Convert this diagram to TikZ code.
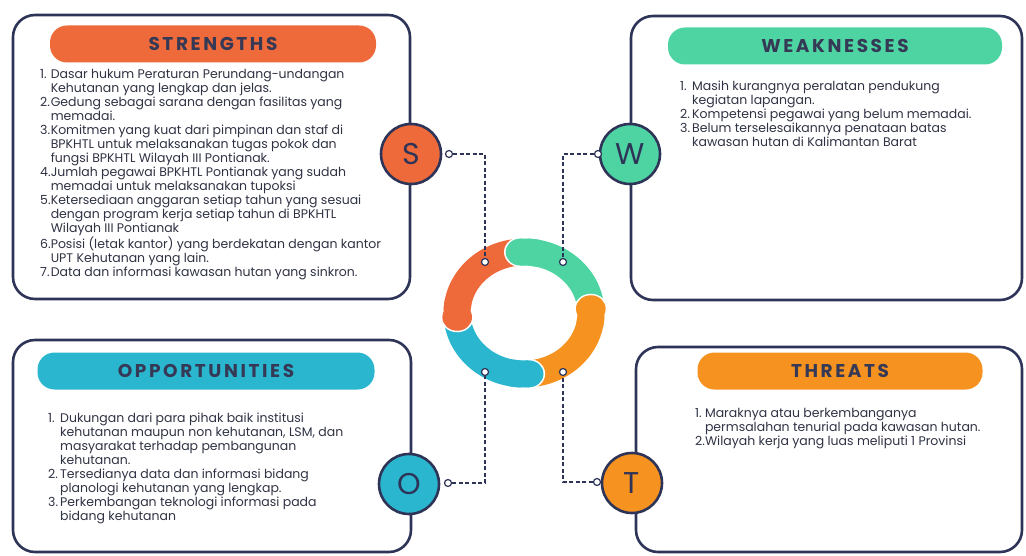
\documentclass[tikz,border=0pt]{standalone}
\usepackage{fontspec}
\setmainfont{Poppins}
\newfontfamily\headfont[LetterSpace=14]{Poppins}
\usetikzlibrary{positioning}
\definecolor{swnavy}{HTML}{2E3457}
\definecolor{swhead}{HTML}{353955}
\definecolor{swtext}{HTML}{2F3243}
\definecolor{swred}{HTML}{EE6A3A}
\definecolor{swmint}{HTML}{4DD4A2}
\definecolor{swteal}{HTML}{2BB6CF}
\definecolor{swamber}{HTML}{F6921F}
\newcommand{\bodytext}{\fontsize{12.5}{14}\selectfont}
\tikzset{
  panel/.style={draw=swnavy, line width=2.6pt, rounded corners=22pt},
  header/.style={rounded corners=17pt, minimum height=37pt, inner sep=0pt, text=swhead, font=\headfont\bfseries\fontsize{18.5}{20}\selectfont},
  badge/.style={circle, draw=swnavy, line width=2.6pt, minimum size=60pt, inner sep=0pt, text=swnavy, font=\fontsize{30}{30}\selectfont},
  pin/.style={circle, draw=swnavy, fill=white, line width=1.2pt, minimum size=7pt, inner sep=0pt},
  link/.style={draw=swnavy, line width=1.5pt, dash pattern=on 4pt off 2.5pt},
  items/.style={anchor=north west, inner sep=0pt, text=swtext, font=\bodytext, align=left},
}

\begin{document}
\begin{tikzpicture}[x=1pt,y=-1pt]
  \useasboundingbox (0,0) rectangle (1026,556);
  \draw[panel] (13,15) rectangle (410,299);
  \draw[panel] (631,16) rectangle (1022,300);
  \draw[panel] (13,340) rectangle (411,552);
  \draw[panel] (636,347) rectangle (1022,552);

  \node[header, fill=swred, minimum width=326pt] (sh) at (213,44) {STRENGTHS};
  \node[header, fill=swmint, minimum width=334pt] (wh) at (835,46) {WEAKNESSES};
  \node[header, fill=swteal, minimum width=337pt] (oh) at (206,371) {OPPORTUNITIES};
  \node[header, fill=swamber, minimum width=285pt] (th) at (840,371) {THREATS};

  \node[items] (st) at (40,69) {\begin{tabular}{@{}l@{}l@{}}
    1.&Dasar hukum Peraturan Perundang-undangan\\
      &Kehutanan yang lengkap dan jelas.\\
    2.&Gedung sebagai sarana dengan fasilitas yang\\
      &memadai.\\
    3.&Komitmen yang kuat dari pimpinan dan staf di\\
      &BPKHTL untuk melaksanakan tugas pokok dan\\
      &fungsi BPKHTL Wilayah III Pontianak.\\
    4.&Jumlah pegawai BPKHTL Pontianak yang sudah\\
      &memadai untuk melaksanakan tupoksi\\
    5.&Ketersediaan anggaran setiap tahun yang sesuai\\
      &dengan program kerja setiap tahun di BPKHTL\\
      &Wilayah III Pontianak\\
    6.&Posisi (letak kantor) yang berdekatan dengan kantor\\
      &UPT Kehutanan yang lain.\\
    7.&Data dan informasi kawasan hutan yang sinkron.
  \end{tabular}};
  \node[items] (wt) at (680,81) {\begin{tabular}{@{}l@{\hspace{2pt}}l@{}}
    1.&Masih kurangnya peralatan pendukung\\
      &kegiatan lapangan.\\
    2.&Kompetensi pegawai yang belum memadai.\\
    3.&Belum terselesaikannya penataan batas\\
      &kawasan hutan di Kalimantan Barat
  \end{tabular}};
  \node[items] (ot) at (48,412) {\begin{tabular}{@{}l@{\hspace{2pt}}l@{}}
    1.&Dukungan dari para pihak baik institusi\\
      &kehutanan maupun non kehutanan, LSM, dan\\
      &masyarakat terhadap pembangunan\\
      &kehutanan.\\
    2.&Tersedianya data dan informasi bidang\\
      &planologi kehutanan yang lengkap.\\
    3.&Perkembangan teknologi informasi pada\\
      &bidang kehutanan
  \end{tabular}};
  \node[items] (tt) at (695,407) {\begin{tabular}{@{}l@{}l@{}}
    1.&Maraknya atau berkembanganya\\
      &permsalahan tenurial pada kawasan hutan.\\
    2.&Wilayah kerja yang luas meliputi 1 Provinsi
  \end{tabular}};

  \begin{scope}[shift={(524,313)}, yscale=-1, xscale=1.098]
    \foreach \a/\b/\c in {4/93/swmint, 93/184/swred, 184/274/swteal, 274/364/swamber}
      \draw[\c, line width=27pt] (\a:61) arc[start angle=\a, end angle=\b, radius=61];
    \foreach \a/\b/\c in {4/93/swmint, 93/184/swred, 184/274/swteal, 274/364/swamber} {
      \fill[white] (\b:61) circle[radius=15];
      \fill[\c] (\b:61) circle[radius=13.5];
      \draw[\c, line width=27pt] (\b-15:61) arc[start angle=\b-15, end angle=\b, radius=61];
    }
  \end{scope}

  \node[badge, fill=swred] (s) at (411,154) {S};
  \node[badge, fill=swmint] (w) at (630,154) {W};
  \node[badge, fill=swteal] (o) at (409,484) {O};
  \node[badge, fill=swamber] (t) at (632,483) {T};

  \node[pin] (s1) at (449,154) {};
  \node[pin] (s2) at (485,262) {};
  \node[pin] (w1) at (598,154) {};
  \node[pin] (w2) at (563,262) {};
  \node[pin] (o1) at (448,483) {};
  \node[pin] (o2) at (485,372) {};
  \node[pin] (t1) at (597,482) {};
  \node[pin] (t2) at (563,372) {};
  \draw[link] (s1) -| (s2);
  \draw[link] (w1) -| (w2);
  \draw[link] (o1) -| (o2);
  \draw[link] (t1) -| (t2);
\end{tikzpicture}
\end{document}
